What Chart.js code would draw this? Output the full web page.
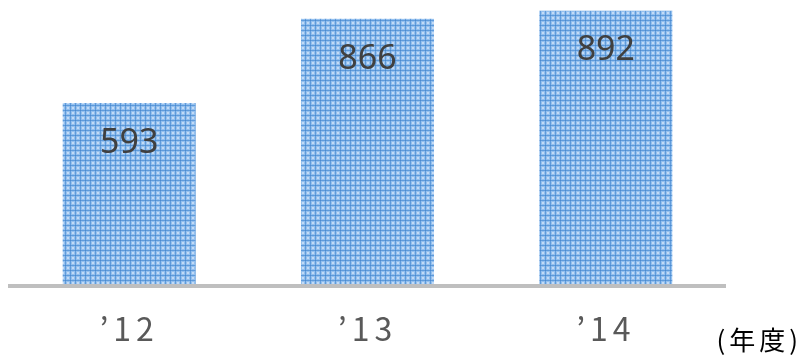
<!DOCTYPE html>
<html>
<head>
<meta charset="utf-8">
<script src="https://cdn.jsdelivr.net/npm/chart.js@4/dist/chart.umd.min.js"></script>
<style>
  html, body { margin: 0; padding: 0; background: #ffffff; }
  #wrap { width: 800px; height: 361px; position: relative; }
</style>
</head>
<body>
<div id="wrap"><canvas id="c" width="800" height="361"></canvas></div>
<script>
// Fiscal years and their values
const years = ['’12', '’13', '’14'];
const values = [593, 866, 892];
const unitLabel = '(年度)';

// Plaid tile used to fill the bars
function makePlaid() {
  const t = document.createElement('canvas');
  t.width = 10; t.height = 10;
  const g = t.getContext('2d');
  g.fillStyle = '#94c0ee';
  g.fillRect(0, 0, 10, 10);
  // light checks between the stripes
  g.fillStyle = '#c2daf6';
  [[2,2],[7,7],[2,7],[7,2]].forEach(([x,y]) => g.fillRect(x, y, 2, 2));
  // darker stripes
  g.fillStyle = '#5f9bdb';
  [0, 5].forEach(p => { g.fillRect(p, 0, 1, 10); g.fillRect(0, p, 10, 1); });
  g.fillStyle = '#4d8bd0';
  [[0,0],[5,5],[0,5],[5,0]].forEach(([x,y]) => g.fillRect(x, y, 1, 1));
  return g.createPattern(t, 'repeat');
}

// Value labels inside the bars, plus the unit caption
const barLabels = {
  id: 'barLabels',
  afterDatasetsDraw(chart) {
    const ctx = chart.ctx;
    const meta = chart.getDatasetMeta(0);
    ctx.save();
    ctx.letterSpacing = '0px';
    ctx.font = '34px "Noto Sans", sans-serif';
    ctx.fillStyle = '#404040';
    ctx.textAlign = 'center';
    ctx.textBaseline = 'middle';
    meta.data.forEach((bar, i) => {
      ctx.fillText(String(values[i]), bar.x, bar.y + 40);
    });
    ctx.restore();
    // spaced-out year labels on the x axis (drawn after the datasets)
    ctx.letterSpacing = '5px';
  },
  afterDraw(chart) {
    const ctx = chart.ctx;
    ctx.save();
    ctx.letterSpacing = '4px';
    ctx.font = '26px "Noto Sans CJK JP", sans-serif';
    ctx.fillStyle = '#000000';
    ctx.textAlign = 'right';
    ctx.textBaseline = 'middle';
    ctx.fillText(unitLabel, 802, 340);
    ctx.restore();
    ctx.letterSpacing = '0px';
  }
};

new Chart(document.getElementById('c'), {
  type: 'bar',
  data: {
    labels: years,
    datasets: [{
      data: values,
      backgroundColor: makePlaid(),
      borderWidth: 0,
      barPercentage: 0.558,
      categoryPercentage: 1
    }]
  },
  options: {
    responsive: false,
    animation: false,
    layout: { padding: { left: 10, right: 75, top: 0, bottom: 0 } },
    plugins: { legend: { display: false }, tooltip: { enabled: false } },
    scales: {
      x: {
        grid: { display: false, drawTicks: false },
        border: { display: true, color: '#bfbfbf', width: 4, z: 1 },
        ticks: {
          z: 1,
          color: '#595959',
          font: { family: '"Noto Sans CJK JP", sans-serif', size: 32 },
          padding: 24
        },
        afterFit(scale) { scale.height = 75; }
      },
      y: {
        display: false,
        min: 0,
        max: 927
      }
    }
  },
  plugins: [barLabels]
});
</script>
</body>
</html>
